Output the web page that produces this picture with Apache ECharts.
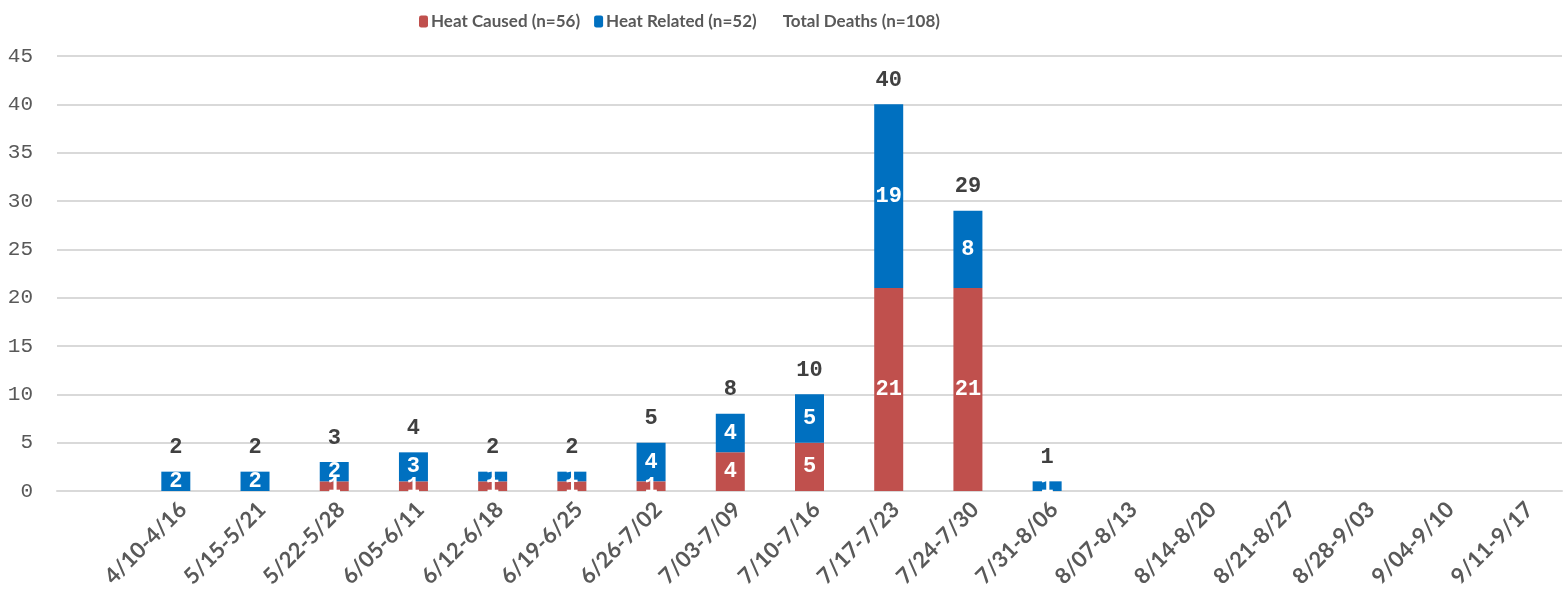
<!DOCTYPE html>
<html><head><meta charset="utf-8">
<script src="https://cdn.jsdelivr.net/npm/echarts@6/dist/echarts.min.js"></script>
<style>html,body{margin:0;padding:0;background:#fff}#c{width:1566px;height:599px}</style>
</head><body><div id="c"></div>
<script>
const categories = ['', '4/10-4/16','5/15-5/21','5/22-5/28','6/05-6/11','6/12-6/18','6/19-6/25','6/26-7/02','7/03-7/09','7/10-7/16','7/17-7/23','7/24-7/30','7/31-8/06','8/07-8/13','8/14-8/20','8/21-8/27','8/28-9/03','9/04-9/10','9/11-9/17'];
const heatCaused  = [0, 0,0,1,1,1,1,1,4,5,21,21,0,0,0,0,0,0,0];
const heatRelated = [0, 2,2,2,3,1,1,4,4,5,19,8,1,0,0,0,0,0,0];
const totalDeaths = [0, 2,2,3,4,2,2,5,8,10,40,29,1,0,0,0,0,0,0];
const yTicks = [0,5,10,15,20,25,30,35,40,45];

const mono = "'Liberation Mono','Courier New',monospace";
const sans = "Lato,'Open Sans',sans-serif";
const hideZero = p => (p.value ? String(p.value) : '');

const chart = echarts.init(document.getElementById('c'));
chart.setOption({
  animation: false,
  legend: {
    left: 414, top: 8,
    itemWidth: 9, itemHeight: 12, itemGap: 14,
    textStyle: {fontFamily: sans, fontWeight: 'bold', fontSize: 17, color: '#595959', padding: [0,0,0,-2]},
    data: [
      {name: 'Heat Caused (n=56)'},
      {name: 'Heat Related (n=52)'},
      {name: 'Total Deaths (n=108)', icon: 'rect', itemStyle: {color: 'rgba(0,0,0,0)'}}
    ]
  },
  grid: {left: 57, right: 4, top: 56, bottom: 108, containLabel: false},
  xAxis: {
    type: 'category', data: categories,
    axisLine: {show: true, lineStyle: {color: '#d9d9d9', width: 2}},
    axisTick: {show: false},
    axisLabel: {interval: 0, rotate: 45, margin: 8, lineHeight: 20, formatter: v => '\n' + v,
      fontFamily: sans, fontWeight: 'bold', fontSize: 22, color: '#595959'}
  },
  yAxis: {
    type: 'value', min: yTicks[0], max: yTicks[yTicks.length-1], interval: 5,
    axisLine: {show: false}, axisTick: {show: false},
    splitLine: {lineStyle: {color: '#d9d9d9', width: 2}},
    axisLabel: {margin: 24, fontFamily: mono, fontSize: 21, color: '#595959'}
  },
  series: [
    {name: 'Heat Caused (n=56)', type: 'bar', stack: 's', data: heatCaused, barWidth: 29,
      itemStyle: {color: '#c0504d'},
      label: {show: true, position: 'inside', formatter: hideZero, color: '#fff', fontFamily: mono, fontWeight: 'bold', fontSize: 22}},
    {name: 'Heat Related (n=52)', type: 'bar', stack: 's', data: heatRelated, barWidth: 29,
      itemStyle: {color: '#0070c0'},
      label: {show: true, position: 'inside', formatter: hideZero, color: '#fff', fontFamily: mono, fontWeight: 'bold', fontSize: 22}},
    {name: 'Total Deaths (n=108)', type: 'bar', data: totalDeaths, barWidth: 29, barGap: '-100%',
      itemStyle: {color: 'rgba(0,0,0,0)'}, z: 5,
      label: {show: true, position: 'top', distance: 13, formatter: hideZero, color: '#404040', fontFamily: mono, fontWeight: 'bold', fontSize: 22}}
  ]
});
</script></body></html>
